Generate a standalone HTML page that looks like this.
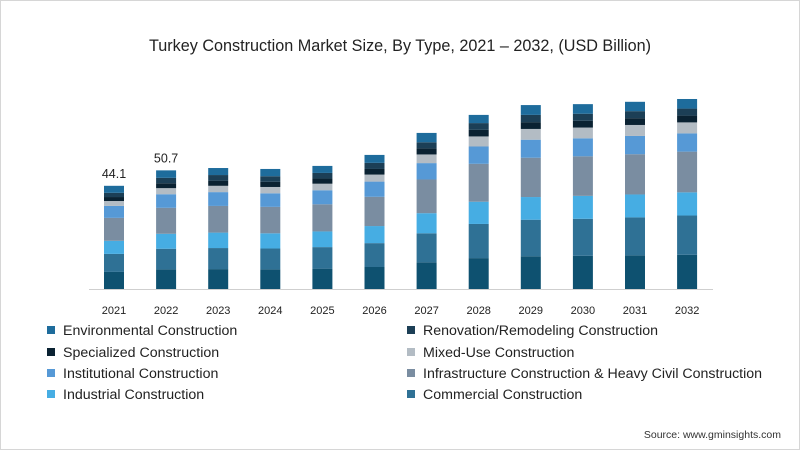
<!DOCTYPE html>
<html><head><meta charset="utf-8"><style>
body{margin:0;background:#fff}
#wrap{position:relative;width:798px;height:448px;border:1px solid #d6d6d6;font-family:"Liberation Sans",sans-serif;color:#222;overflow:hidden}
</style></head><body>
<div id="wrap">
<svg id="chart" width="798" height="448"></svg>
</div>
<script>
const years=["2021","2022","2023","2024","2025","2026","2027","2028","2029","2030","2031","2032"];
const residential=[7.3,8.4,8.5,8.4,8.7,9.4,11.4,13.2,14.0,14.2,14.4,14.6];
const commercial=[7.7,8.8,9.0,8.9,9.2,10.2,12.4,14.6,15.6,15.8,16.2,16.8];
const industrial=[5.6,6.4,6.6,6.5,6.7,7.3,8.6,9.5,9.7,9.8,9.8,9.9];
const infrastructure=[9.8,11.1,11.4,11.3,11.6,12.5,14.4,16.2,16.8,16.9,17.2,17.4];
const institutional=[5.1,5.8,5.9,5.8,6.0,6.5,7.0,7.4,7.7,7.7,7.8,7.8];
const mixedUse=[2.1,2.6,2.7,2.7,2.8,3.0,3.7,4.3,4.6,4.6,4.7,4.7];
const specialized=[1.7,2.1,2.2,2.2,2.2,2.4,2.6,2.8,2.9,2.9,2.9,2.9];
const renovation=[1.8,2.3,2.4,2.4,2.4,2.6,2.6,2.9,3.1,3.0,3.0,3.0];
const environmental=[3.0,3.2,3.0,3.1,3.0,3.4,4.0,3.5,4.2,4.1,4.0,4.1];
const labels={"2021":"44.1","2022":"50.7"};
const NS="http://www.w3.org/2000/svg";
const svg=document.getElementById('chart');
function mk(t,a,txt){const e=document.createElementNS(NS,t);for(const k in a)e.setAttribute(k,a[k]);if(txt!==undefined)e.textContent=txt;svg.appendChild(e);return e;}
const base=288,ppu=2.34;
const y=v=>base-v*ppu;
const x=i=>113+i*52.1;
const series=[
 {n:"residential",d:residential,c:"#0e5170"},
 {n:"commercial",d:commercial,c:"#2f7195"},
 {n:"industrial",d:industrial,c:"#46ade3"},
 {n:"infrastructure",d:infrastructure,c:"#7a8da1"},
 {n:"institutional",d:institutional,c:"#5699d6"},
 {n:"mixed-use",d:mixedUse,c:"#b3bcc4"},
 {n:"specialized",d:specialized,c:"#0a2232"},
 {n:"renovation",d:renovation,c:"#1c3f56"},
 {n:"environmental",d:environmental,c:"#1e6c9c"}];
let t=mk('text',{x:399,y:50,'text-anchor':'middle','font-size':16.2,fill:'#222'},"Turkey Construction Market Size, By Type, 2021 – 2032, (USD Billion)");


let ax=mk('line',{x1:88,x2:712,y1:288.5,y2:288.5,stroke:'#cfcfcf'});


years.forEach((yr,i)=>{
 let cum=0;
 series.forEach(s=>{
  const v=s.d[i];
  const r=mk('rect',{x:x(i)-10,y:y(cum+v),width:20,height:v*ppu,fill:s.c});
  
  
  cum+=v;
 });
 const tl=mk('text',{x:x(i),y:313,'text-anchor':'middle','font-size':11,fill:'#222'},yr);
 
 
 if(labels[yr]){
  const l=mk('text',{x:x(i),y:y(cum)-8,'text-anchor':'middle','font-size':12.5,fill:'#222'},labels[yr]);
  
  
 }
});
const legend=[
 ["Environmental Construction","#1e6c9c",50,329],["Renovation/Remodeling Construction","#1c3f56",410,329],
 ["Specialized Construction","#0a2232",50,351],["Mixed-Use Construction","#b3bcc4",410,351],
 ["Institutional Construction","#5699d6",50,372],["Infrastructure Construction & Heavy Civil Construction","#7a8da1",410,372],
 ["Industrial Construction","#46ade3",50,393],["Commercial Construction","#2f7195",410,393]];
legend.forEach(l=>{
 const r=mk('rect',{x:l[2]-4,y:l[3]-4,width:8,height:8,fill:l[1]});
 
 
 const tx=mk('text',{x:l[2]+12,y:l[3]+5,'font-size':14.2,fill:'#222'},l[0]);
 
 
});
const src=mk('text',{x:780,y:437,'text-anchor':'end','font-size':10.5,fill:'#333'},"Source: www.gminsights.com");


</script>
</body></html>
